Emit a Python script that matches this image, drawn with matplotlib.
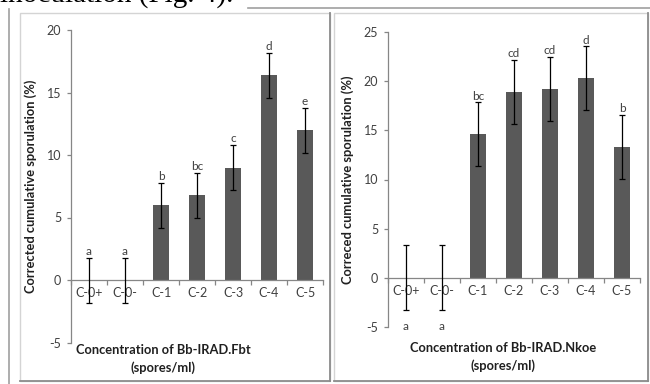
#!/usr/bin/env python3
"""
Corrected cumulative sporulation for two Bb-IRAD isolates
"""

import matplotlib
matplotlib.use('Agg')
import matplotlib.pyplot as plt
from matplotlib.patches import Rectangle
from matplotlib.lines import Line2D
import numpy as np

categories = ['C-0+', 'C-0-', 'C-1', 'C-2', 'C-3', 'C-4', 'C-5']

fbt_means = [0.0, 0.0, 6.0, 6.8, 9.0, 16.4, 12.0]
fbt_errs = [1.8, 1.8, 1.8, 1.8, 1.8, 1.8, 1.8]
fbt_letters = ['a', 'a', 'b', 'bc', 'c', 'd', 'e']

nkoe_means = [0.0, 0.0, 14.6, 18.9, 19.2, 20.3, 13.3]
nkoe_errs = [3.3, 3.3, 3.25, 3.3, 3.25, 3.25, 3.25]
nkoe_letters = ['a', 'a', 'bc', 'cd', 'cd', 'd', 'b']

BAR = '#595959'
AXIS = '#868686'
TXT = '#404040'
FONT = ['Lato', 'DejaVu Sans']

plt.rcParams['font.family'] = FONT


def draw_panel(ax, means, errs, letters, ylim, yticks, ylabel, letters_below=False):
    x = np.arange(len(categories))
    ax.bar(x, means, 0.45, color=BAR, zorder=2)
    ax.errorbar(x, means, yerr=errs, fmt='none', ecolor='black',
                elinewidth=0.9, capsize=2.5, capthick=0.9, zorder=3)

    for xi, m, e, lab in zip(x, means, errs, letters):
        if letters_below and m == 0:
            ax.text(xi, ylim[0] + 0.1, lab, ha='center', va='center',
                    fontsize=8.5, color=TXT)
        else:
            ax.annotate(lab, (xi, m + e), xytext=(0, 0.5), textcoords='offset points',
                        ha='center', va='bottom', fontsize=8.5, color=TXT)

    ax.set_xlim(-0.5, len(categories) - 0.5)
    ax.set_ylim(*ylim)
    ax.set_yticks(yticks)
    ax.set_yticklabels([str(t) for t in yticks])
    ax.set_xticks(x)
    ax.set_xticklabels(categories)
    ax.set_xticks(np.arange(len(categories) + 1) - 0.5, minor=True)

    for s in ('top', 'right'):
        ax.spines[s].set_visible(False)
    ax.spines['bottom'].set_position(('data', 0))
    for s in ('left', 'bottom'):
        ax.spines[s].set_color(AXIS)
        ax.spines[s].set_linewidth(0.9)

    ax.tick_params(axis='y', direction='out', length=3, width=0.9, color=AXIS,
                   labelsize=9, labelcolor=TXT, pad=4)
    ax.tick_params(axis='x', which='major', length=0, labelsize=9,
                   labelcolor=TXT, pad=5)
    ax.tick_params(axis='x', which='minor', direction='out', length=3.5,
                   width=0.9, color=AXIS)
    ax.set_ylabel(ylabel, fontsize=9.3, fontweight='bold', color='#202020', labelpad=7)
    ax.patch.set_alpha(0)


fig = plt.figure(figsize=(6.5, 3.84), dpi=100)
W, H = 650.0, 384.0


def fx(px):
    return px / W


def fy(py):
    return 1 - py / H


# page frame and panel boxes
fig.add_artist(Line2D([fx(248), fx(650)], [fy(8), fy(8)], color='#a0a0a0', lw=1.2))
fig.add_artist(Line2D([fx(9), fx(9)], [fy(9), fy(384)], color='#a0a0a0', lw=1.2))
for left, right in ((20, 330), (334, 648)):
    fig.add_artist(Rectangle((fx(left), fy(381)), fx(right - left), (381 - 13) / H,
                             fill=False, edgecolor='#d4d4d4', lw=1.0))
    fig.add_artist(Line2D([fx(right), fx(right)], [fy(13), fy(381)], color='#8c8c8c', lw=1.3))
    fig.add_artist(Line2D([fx(left), fx(right)], [fy(381), fy(381)], color='#8c8c8c', lw=1.3))

# caption line of the page, cut at the top edge as in the source
fig.text(0.0, fy(1.5), 'inoculation (Fig. 4).', family='Liberation Serif',
         fontsize=21, ha='left', va='baseline', color='black')

ax1 = fig.add_axes([fx(71), fy(342.5), fx(252), (342.5 - 30) / H])
draw_panel(ax1, fbt_means, fbt_errs, fbt_letters, (-5, 20), [-5, 0, 5, 10, 15, 20],
           'Corrected cumulative sporulation (%)')

ax2 = fig.add_axes([fx(388), fy(327), fx(252), (327 - 32) / H])
draw_panel(ax2, nkoe_means, nkoe_errs, nkoe_letters, (-5, 25), [-5, 0, 5, 10, 15, 20, 25],
           'Correced cumulative sporulation (%)', letters_below=True)

fig.text(fx(163), fy(359), 'Concentration of Bb-IRAD.Fbt\n(spores/ml)', ha='center',
         va='center', fontsize=9.3, fontweight='bold', color='#202020', linespacing=1.45)
fig.text(fx(503), fy(357), 'Concentration of Bb-IRAD.Nkoe\n(spores/ml)', ha='center',
         va='center', fontsize=9.3, fontweight='bold', color='#202020', linespacing=1.45)

fig.savefig('out.png', dpi=100)
plt.close(fig)
